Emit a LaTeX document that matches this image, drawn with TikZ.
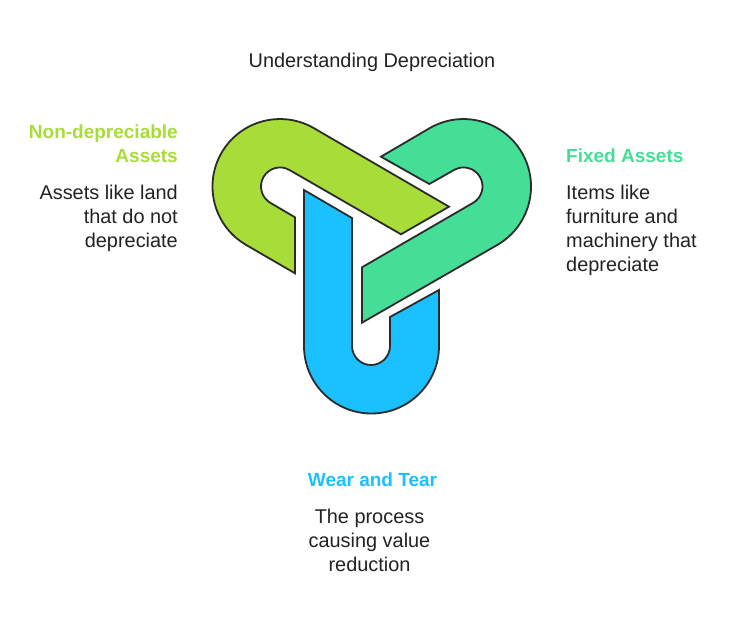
\documentclass[tikz,border=0pt]{standalone}
\usepackage{fontspec}
\setmainfont{Liberation Sans}
\definecolor{lime}{HTML}{A8DC38}
\definecolor{mint}{HTML}{44DE96}
\definecolor{sky}{HTML}{1AC0FF}
\definecolor{ink}{HTML}{222222}
\definecolor{edge}{HTML}{2B2B2B}
\tikzset{
  link/.style={draw=edge,line width=1.8pt,line join=miter},
  bodytext/.style={inner sep=0pt,text=ink,font=\fontsize{19.9}{24}\selectfont},
  headtext/.style={inner sep=0pt,font=\fontsize{19}{24}\selectfont\bfseries},
}
\begin{document}
\begin{tikzpicture}[x=1pt,y=-1pt]
\useasboundingbox (0,0) rectangle (732,624);
% lime link
\draw[link,fill=lime] (449,206.7) -- (401,234.3) -- (289.5,170)
  arc[start angle=-60,end angle=-240,radius=19] -- (295,217.3) -- (295,273.3) -- (246.25,245)
  arc[start angle=-240,end angle=-60,radius=67.5] -- cycle;
% mint link
\draw[link,fill=mint] (381,156.7) -- (429.3,184) -- (454,170)
  arc[start angle=-120,end angle=60,radius=19] -- (362,267.3) -- (362,322.7) -- (497.25,245)
  arc[start angle=60,end angle=-120,radius=67.5] -- cycle;
% sky link
\draw[link,fill=sky] (304,190) -- (352,218) -- (352,346)
  arc[start angle=180,end angle=0,radius=19] -- (390,317) -- (439,290) -- (439,346)
  arc[start angle=0,end angle=180,radius=67.5] -- cycle;
\node[bodytext,anchor=base] (title) at (372,67) {Understanding Depreciation};
\node[headtext,text=lime,align=right,anchor=north east] (nd) at (178,125) {Non-depreciable\\Assets};
\node[bodytext,align=right,anchor=north east] (ndt) at (178,184.5) {Assets like land\\that do not\\depreciate};
\node[headtext,text=mint,align=left,anchor=north west] (fa) at (566,149) {Fixed Assets};
\node[bodytext,align=left,anchor=north west] (fat) at (566,184.5) {Items like\\furniture and\\machinery that\\depreciate};
\node[headtext,text=sky,align=center,anchor=north] (wt) at (372.5,473) {Wear and Tear};
\node[bodytext,align=center,anchor=north] (wtt) at (369.5,508.5) {The process\\causing value\\reduction};
\end{tikzpicture}
\end{document}
